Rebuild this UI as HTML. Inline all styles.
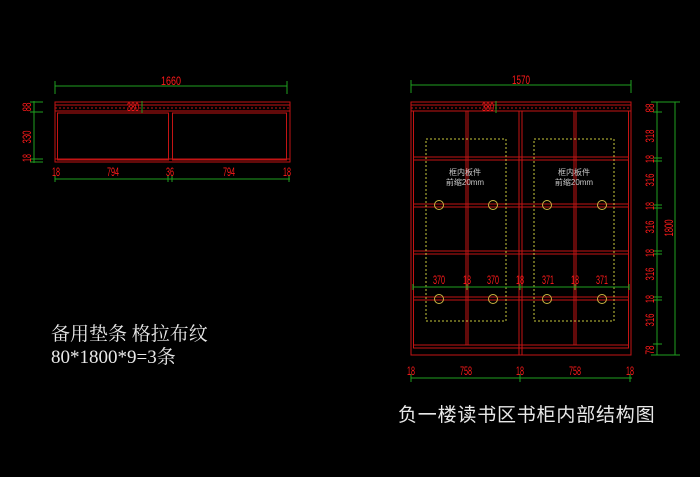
<!DOCTYPE html>
<html><head><meta charset="utf-8"><style>
html,body{margin:0;padding:0;background:#000;width:700px;height:477px;overflow:hidden}
svg{display:block}
.r{fill:#ff1a1a;font-family:"Liberation Sans",sans-serif;font-size:12px}
</style></head><body>
<svg width="700" height="477" viewBox="0 0 700 477" xmlns="http://www.w3.org/2000/svg">
<rect width="700" height="477" fill="#000"/>
<!-- LEFT DRAWING -->
<g fill="none" stroke="#c41414" stroke-width="1">
<rect x="55" y="102" width="235" height="60"/>
<line x1="55" y1="105" x2="290" y2="105"/>
<line x1="55" y1="111" x2="290" y2="111"/>
<line x1="55" y1="108" x2="290" y2="108" stroke-dasharray="2,2"/>
<rect x="57.5" y="113" width="111" height="47"/>
<rect x="172.5" y="113" width="114" height="47"/>
<line x1="55" y1="159" x2="290" y2="159"/>
</g>
<g stroke="#1fa01f" stroke-width="1" fill="none">
<line x1="55" y1="86" x2="287" y2="86"/><line x1="55" y1="81" x2="55" y2="94"/><line x1="287" y1="81" x2="287" y2="94"/>
<line x1="34" y1="101" x2="34" y2="163"/>
<line x1="30" y1="102" x2="43" y2="102"/><line x1="30" y1="112" x2="43" y2="112"/><line x1="30" y1="159" x2="43" y2="159"/><line x1="30" y1="162" x2="43" y2="162"/>
<line x1="55" y1="179" x2="290" y2="179"/>
<line x1="55" y1="175" x2="55" y2="182"/><line x1="168" y1="175" x2="168" y2="182"/><line x1="172" y1="175" x2="172" y2="182"/><line x1="289" y1="175" x2="289" y2="182"/>
<line x1="142" y1="101" x2="142" y2="113"/>
</g>
<text class="r" x="171" y="85" text-anchor="middle" font-size="14" textLength="20" lengthAdjust="spacingAndGlyphs">1660</text>
<text class="r" x="133" y="111" text-anchor="middle" font-size="10" textLength="12" lengthAdjust="spacingAndGlyphs">380</text>
<g class="r" text-anchor="middle" lengthAdjust="spacingAndGlyphs">
<text transform="translate(31,107) rotate(-90)" textLength="9" lengthAdjust="spacingAndGlyphs">88</text>
<text transform="translate(31,137) rotate(-90)" textLength="13" lengthAdjust="spacingAndGlyphs">330</text>
<text transform="translate(31,158) rotate(-90)" textLength="8" lengthAdjust="spacingAndGlyphs">18</text>
<text x="56" y="176" textLength="8" lengthAdjust="spacingAndGlyphs">18</text><text x="113" y="176" textLength="12" lengthAdjust="spacingAndGlyphs">794</text><text x="170" y="176" textLength="8" lengthAdjust="spacingAndGlyphs">36</text><text x="229" y="176" textLength="12" lengthAdjust="spacingAndGlyphs">794</text><text x="287" y="176" textLength="8" lengthAdjust="spacingAndGlyphs">18</text>
</g>

<!-- RIGHT DRAWING -->
<g fill="none" stroke="#c41414" stroke-width="1">
<rect x="411" y="102" width="220" height="253"/>
<line x1="411" y1="105" x2="631" y2="105"/>
<line x1="411" y1="108" x2="631" y2="108" stroke-dasharray="2,2"/>
<line x1="411" y1="111" x2="631" y2="111"/>
<line x1="413.5" y1="111" x2="413.5" y2="348"/>
<line x1="628.5" y1="111" x2="628.5" y2="348"/>
<line x1="466" y1="111" x2="466" y2="345"/><line x1="468" y1="111" x2="468" y2="345"/>
<line x1="519" y1="111" x2="519" y2="355"/><line x1="522" y1="111" x2="522" y2="355"/>
<line x1="574" y1="111" x2="574" y2="345"/><line x1="576" y1="111" x2="576" y2="345"/>
<line x1="413" y1="157" x2="629" y2="157"/><line x1="413" y1="160" x2="629" y2="160"/>
<line x1="413" y1="204" x2="629" y2="204"/><line x1="413" y1="207" x2="629" y2="207"/>
<line x1="413" y1="251" x2="629" y2="251"/><line x1="413" y1="254" x2="629" y2="254"/>
<line x1="413" y1="297" x2="629" y2="297"/><line x1="413" y1="300" x2="629" y2="300"/>
<line x1="413" y1="345" x2="629" y2="345"/><line x1="413" y1="348" x2="629" y2="348"/>
</g>
<g fill="none" stroke="#c8c83c" stroke-width="1" stroke-dasharray="2,2">
<rect x="426" y="139" width="80" height="182"/>
<rect x="534" y="139" width="80" height="182"/>
</g>
<g fill="none" stroke="#c8b440" stroke-width="1">
<circle cx="439" cy="205" r="4.5"/><circle cx="493" cy="205" r="4.5"/><circle cx="547" cy="205" r="4.5"/><circle cx="602" cy="205" r="4.5"/>
<circle cx="439" cy="299" r="4.5"/><circle cx="493" cy="299" r="4.5"/><circle cx="547" cy="299" r="4.5"/><circle cx="602" cy="299" r="4.5"/>
</g>
<g fill="#c8c8c8" font-family="'Liberation Sans','Noto Sans CJK SC',sans-serif" font-size="8" text-anchor="middle">
<text x="465" y="175">框内板件</text><text x="465" y="185">前缩20mm</text>
<text x="574" y="175">框内板件</text><text x="574" y="185">前缩20mm</text>
</g>
<g stroke="#1fa01f" stroke-width="1" fill="none">
<line x1="411" y1="85" x2="631" y2="85"/><line x1="411" y1="80" x2="411" y2="93"/><line x1="631" y1="80" x2="631" y2="93"/>
<line x1="413" y1="287" x2="629" y2="287"/>
<line x1="413" y1="284" x2="413" y2="290"/><line x1="467" y1="284" x2="467" y2="290"/><line x1="520" y1="284" x2="520" y2="290"/><line x1="575" y1="284" x2="575" y2="290"/><line x1="629" y1="284" x2="629" y2="290"/>
<line x1="411" y1="378" x2="632" y2="378"/>
<line x1="411" y1="374" x2="411" y2="382"/><line x1="520" y1="374" x2="520" y2="382"/><line x1="630" y1="374" x2="630" y2="382"/>
<line x1="657" y1="102" x2="657" y2="355"/>
<line x1="675" y1="102" x2="675" y2="355"/>
<line x1="651" y1="102" x2="680" y2="102"/><line x1="651" y1="355" x2="680" y2="355"/>
<line x1="653" y1="112" x2="662" y2="112"/><line x1="653" y1="158" x2="662" y2="158"/><line x1="653" y1="161" x2="662" y2="161"/>
<line x1="653" y1="205" x2="662" y2="205"/><line x1="653" y1="208" x2="662" y2="208"/>
<line x1="653" y1="251" x2="662" y2="251"/><line x1="653" y1="254" x2="662" y2="254"/>
<line x1="653" y1="297" x2="662" y2="297"/><line x1="653" y1="300" x2="662" y2="300"/>
<line x1="653" y1="344" x2="662" y2="344"/>
<line x1="496" y1="101" x2="496" y2="113"/>
</g>
<text class="r" x="521" y="84" text-anchor="middle" font-size="14" textLength="18" lengthAdjust="spacingAndGlyphs">1570</text>
<text class="r" x="488" y="111" text-anchor="middle" font-size="10" textLength="12" lengthAdjust="spacingAndGlyphs">380</text>
<g class="r" text-anchor="middle">
<text x="439" y="284" textLength="12" lengthAdjust="spacingAndGlyphs">370</text><text x="467" y="284" textLength="8" lengthAdjust="spacingAndGlyphs">18</text><text x="493" y="284" textLength="12" lengthAdjust="spacingAndGlyphs">370</text><text x="520" y="284" textLength="8" lengthAdjust="spacingAndGlyphs">18</text><text x="548" y="284" textLength="12" lengthAdjust="spacingAndGlyphs">371</text><text x="575" y="284" textLength="8" lengthAdjust="spacingAndGlyphs">18</text><text x="602" y="284" textLength="12" lengthAdjust="spacingAndGlyphs">371</text>
<text x="411" y="375" textLength="8" lengthAdjust="spacingAndGlyphs">18</text><text x="466" y="375" textLength="12" lengthAdjust="spacingAndGlyphs">758</text><text x="520" y="375" textLength="8" lengthAdjust="spacingAndGlyphs">18</text><text x="575" y="375" textLength="12" lengthAdjust="spacingAndGlyphs">758</text><text x="630" y="375" textLength="8" lengthAdjust="spacingAndGlyphs">18</text>
</g>
<g class="r" text-anchor="middle">
<text transform="translate(654,108) rotate(-90)" textLength="9" lengthAdjust="spacingAndGlyphs">88</text>
<text transform="translate(654,136) rotate(-90)" textLength="13" lengthAdjust="spacingAndGlyphs">318</text>
<text transform="translate(654,159) rotate(-90)" textLength="8" lengthAdjust="spacingAndGlyphs">18</text>
<text transform="translate(654,180) rotate(-90)" textLength="13" lengthAdjust="spacingAndGlyphs">316</text>
<text transform="translate(654,206) rotate(-90)" textLength="8" lengthAdjust="spacingAndGlyphs">18</text>
<text transform="translate(654,227) rotate(-90)" textLength="13" lengthAdjust="spacingAndGlyphs">316</text>
<text transform="translate(654,253) rotate(-90)" textLength="8" lengthAdjust="spacingAndGlyphs">18</text>
<text transform="translate(654,274) rotate(-90)" textLength="13" lengthAdjust="spacingAndGlyphs">316</text>
<text transform="translate(654,299) rotate(-90)" textLength="8" lengthAdjust="spacingAndGlyphs">18</text>
<text transform="translate(654,320) rotate(-90)" textLength="13" lengthAdjust="spacingAndGlyphs">316</text>
<text transform="translate(654,350) rotate(-90)" textLength="9" lengthAdjust="spacingAndGlyphs">78</text>
<text transform="translate(673,228) rotate(-90)" textLength="17" lengthAdjust="spacingAndGlyphs">1800</text>
</g>

<!-- TEXT -->
<g fill="#e8e8e8">
<text x="51" y="340" font-family="'Liberation Serif','Noto Serif CJK SC',serif" font-size="19">备用垫条 格拉布纹</text>
<text x="51" y="363" font-family="'Liberation Serif','Noto Serif CJK SC',serif" font-size="19">80*1800*9=3条</text>
<text x="398" y="421" font-family="'Liberation Sans','Noto Sans CJK SC',sans-serif" font-size="19" letter-spacing="0.8">负一楼读书区书柜内部结构图</text>
</g>
</svg>
</body></html>
